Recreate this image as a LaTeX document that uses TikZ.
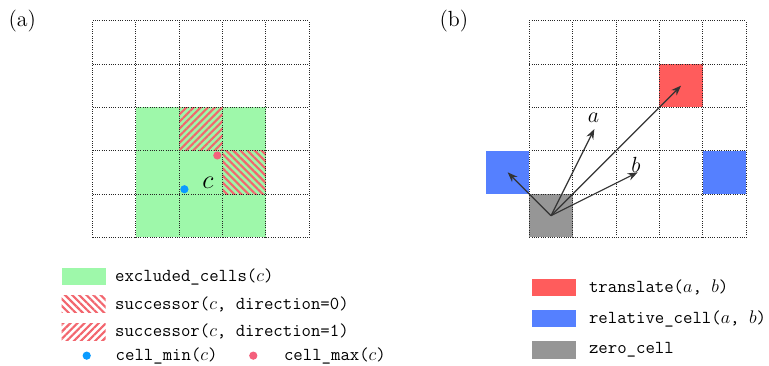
\documentclass[tikz,border=0pt]{standalone}
\usepackage{tikz}
\usetikzlibrary{arrows.meta, positioning, patterns.meta}
\usepackage{xcolor}
\definecolor{gdgreen}{HTML}{9EF8AA}
\definecolor{gdhatch}{HTML}{F2666E}
\definecolor{gdred}{HTML}{FF5C5C}
\definecolor{gdblue}{HTML}{5580FF}
\definecolor{gdgray}{HTML}{969696}
\definecolor{gdmin}{HTML}{0A9BFF}
\definecolor{gdmax}{HTML}{F4607C}
\definecolor{gdarrow}{HTML}{333333}

\begin{document}
\begin{tikzpicture}[
    font=\large,
    gridline/.style={densely dotted, line width=0.5pt, black!85},
    hatchzero/.style={pattern={Lines[angle=-45, distance=3.3pt, line width=1.4pt]}, pattern color=gdhatch},
    hatchone/.style={pattern={Lines[angle=45, distance=3.3pt, line width=1.4pt]}, pattern color=gdhatch},
    cellmark/.style={circle, fill=#1, minimum size=0.19cm, inner sep=0pt},
    vecarrow/.style={-{Stealth}, line width=0.8pt, gdarrow},
    legkey/.style={rectangle, minimum width=1.02cm, minimum height=0.4cm, inner sep=0pt, outer sep=0pt},
    legtext/.style={inner sep=0pt, anchor=west, font=\large\ttfamily},
    panellabel/.style={font=\Large}
  ]
    \useasboundingbox (-2.135,-2.947) rectangle (15.61,5.477);

    % (a) excluded cells around c
    \node[panellabel] (panela) at (-1.62,4.985) {(a)};
    \fill[gdgreen] (1,0) rectangle (4,3);
    \path[hatchone] (2,2) rectangle (3,3);
    \path[hatchzero] (3,1) rectangle (4,2);
    \draw[gridline] (0,0) grid (5,5);
    \node[cellmark=gdmin] (cmin) at (2.12,1.11) {};
    \node[cellmark=gdmax] (cmax) at (2.88,1.89) {};
    \node[font=\LARGE] (cellc) at (2.66,1.26) {$c$};

    % (b) translate and relative cells
    \begin{scope}[shift={(10.08,0)}]
      \node[panellabel] (panelb) at (-1.74,4.985) {(b)};
      \fill[gdred] (3,3) rectangle (4,4);
      \fill[gdblue] (-1,1) rectangle (0,2);
      \fill[gdblue] (4,1) rectangle (5,2);
      \fill[gdgray] (0,0) rectangle (1,1);
      \draw[gridline] (0,0) grid (5,5);
      \coordinate (zero) at (0.5,0.5);
      \coordinate (veca) at (1.5,2.5);
      \coordinate (vecb) at (2.5,1.5);
      \coordinate (vecab) at (3.5,3.5);
      \coordinate (vecrel) at (-0.5,1.5);
      \draw[vecarrow] (zero) -- (veca);
      \draw[vecarrow] (zero) -- (vecb);
      \draw[vecarrow] (zero) -- (vecab);
      \draw[vecarrow] (zero) -- (vecrel);
      \node[font=\Large] (labela) at (1.48,2.75) {$a$};
      \node[font=\Large] (labelb) at (2.46,1.68) {$b$};
    \end{scope}

    % legend (a)
    \node[legkey, fill=gdgreen] (keyexcl) at (-0.205,-0.909) {};
    \node[legtext, right=0.21cm of keyexcl] (textexcl) {excluded\_cells($c$)};
    \node[legkey, hatchzero, below=0.235cm of keyexcl] (keydirzero) {};
    \node[legtext, right=0.21cm of keydirzero] (textdirzero) {successor($c$, direction=0)};
    \node[legkey, hatchone, below=0.235cm of keydirzero] (keydirone) {};
    \node[legtext, right=0.21cm of keydirone] (textdirone) {successor($c$, direction=1)};
    \node[cellmark=gdmin] (keymin) at (-0.134,-2.73) {};
    \node[legtext, right=0.56cm of keymin] (textmin) {cell\_min($c$)};
    \node[cellmark=gdmax] (keymax) at (3.71,-2.73) {};
    \node[legtext, right=0.6cm of keymax] (textmax) {cell\_max($c$)};

    % legend (b)
    \node[legkey, fill=gdred] (keytrans) at (10.64,-1.16) {};
    \node[legtext, right=0.3cm of keytrans] (texttrans) {translate($a$, $b$)};
    \node[legkey, fill=gdblue, below=0.32cm of keytrans] (keyrel) {};
    \node[legtext, right=0.3cm of keyrel] (textrel) {relative\_cell($a$, $b$)};
    \node[legkey, fill=gdgray, below=0.32cm of keyrel] (keyzero) {};
    \node[legtext, right=0.3cm of keyzero] (textzero) {zero\_cell};
  \end{tikzpicture}
\end{document}
